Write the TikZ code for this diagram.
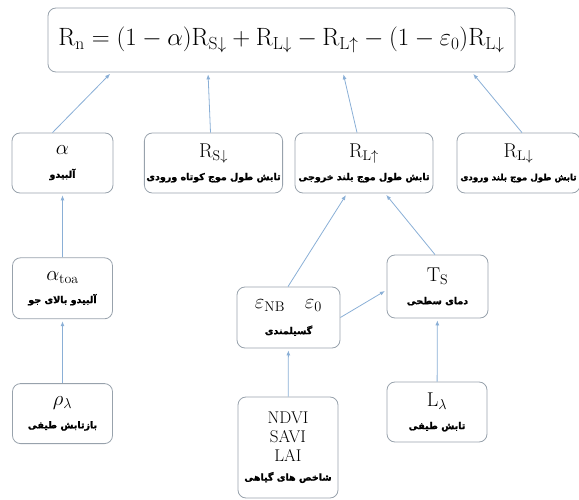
\documentclass[tikz,border=0pt]{standalone}
\usepackage{amsmath}
\usepackage{fontspec}
\usepackage{xcolor}
\usetikzlibrary{arrows.meta, positioning}
\TeXXeTstate=1
\newfontfamily\fafont[Script=Arabic, BoldFeatures={FakeBold=1.5}]{DejaVu Sans}
\newcommand{\fatext}[2][9.5]{{\fafont\bfseries\fontsize{#1}{11}\selectfont\beginR #2\endR}}
\definecolor{BoxGray}{HTML}{98A2AC}
\definecolor{LinkBlue}{HTML}{8AAFD6}

\begin{document}
\begin{tikzpicture}[x=1pt, y=-1pt, node distance=64pt,
    varbox/.style={draw=BoxGray, rounded corners=8pt, align=center, inner sep=2pt,
        line width=0.8pt, font=\fontsize{20}{23}\selectfont},
    link/.style={draw=LinkBlue, line width=0.8pt, -{Latex[length=5pt,width=4pt]}, shorten >=2pt}]
        \useasboundingbox (0,0) rectangle (579,500);

        % Net radiation
        \node[varbox, minimum width=467pt, minimum height=64pt, font=\fontsize{25}{28}\selectfont] (Rn) at (281.5,40)
            {$\mathrm{R_n} = (1-\alpha)\mathrm{R}_{\mathrm{S}\downarrow} + \mathrm{R}_{\mathrm{L}\downarrow}
              - \mathrm{R}_{\mathrm{L}\uparrow} - (1-\varepsilon_0)\mathrm{R}_{\mathrm{L}\downarrow}$};

        % Components
        \node[varbox, minimum width=101pt, minimum height=60pt] (alb) at (62.5,163)
            {$\alpha$\\\fatext{آلبیدو}};
        \node[varbox, minimum width=133pt, minimum height=60pt] (RS) at (213.5,163)
            {$\mathrm{R}_{\mathrm{S}\downarrow}$\\\fatext{تابش طول موج کوتاه ورودی}};
        \node[varbox, minimum width=138pt, minimum height=60pt] (RLup) at (364,163)
            {$\mathrm{R}_{\mathrm{L}\uparrow}$\\\fatext{تابش طول موج بلند خروجی}};
        \node[varbox, minimum width=123pt, minimum height=60pt] (RLdn) at (518.5,163)
            {$\mathrm{R}_{\mathrm{L}\downarrow}$\\\fatext[8.7]{تابش طول موج بلند ورودی}};

        % Inputs
        \node[varbox, minimum width=100pt, minimum height=61pt, below=64pt of alb] (atoa)
            {$\alpha_{\mathrm{toa}}$\\\fatext{آلبیدو بالای جو}};
        \node[varbox, minimum width=100pt, minimum height=60pt, below=64pt of atoa] (rho)
            {$\rho_\lambda$\\\fatext{بازتابش طیفی}};
        \node[varbox, minimum width=103pt, minimum height=61pt] (emis) at (288.5,317.5)
            {$\varepsilon_{\mathrm{NB}}\quad\varepsilon_0$\\[3pt]\fatext{گسیلمندی}};
        \node[varbox, minimum width=101pt, minimum height=63pt] (Ts) at (437.5,286.5)
            {$\mathrm{T_S}$\\\fatext{دمای سطحی}};
        \node[varbox, minimum width=100pt, minimum height=101pt, font=\fontsize{17}{19}\selectfont] (veg) at (288,447.5)
            {NDVI\\SAVI\\LAI\\\fatext{شاخص های گیاهی}};
        \node[varbox, minimum width=100pt, minimum height=60pt] (Llam) at (437,412)
            {$\mathrm{L}_\lambda$\\\fatext{تابش طیفی}};

        % Links to the balance
        \draw[link] ([xshift=-10pt]alb.north) -- ([xshift=-170pt]Rn.south);
        \draw[link] ([xshift=-3pt]RS.north) -- ([xshift=-73.5pt]Rn.south);
        \draw[link] ([xshift=-7pt]RLup.north) -- ([xshift=61.5pt]Rn.south);
        \draw[link] ([xshift=3.5pt]RLdn.north) -- ([xshift=190.5pt]Rn.south);

        % Links between inputs
        \draw[link] (atoa) -- (alb);
        \draw[link] (rho) -- (atoa);
        \draw[link] ([xshift=-0.5pt]emis.north) -- ([xshift=-17pt]RLup.south);
        \draw[link] ([xshift=-2.5pt]Ts.north) -- ([xshift=21pt]RLup.south);
        \draw[link] (emis.east) -- ([yshift=-3.5pt]Ts.west);
        \draw[link] (veg) -- (emis);
        \draw[link] (Llam) -- (Ts);
\end{tikzpicture}
\end{document}
